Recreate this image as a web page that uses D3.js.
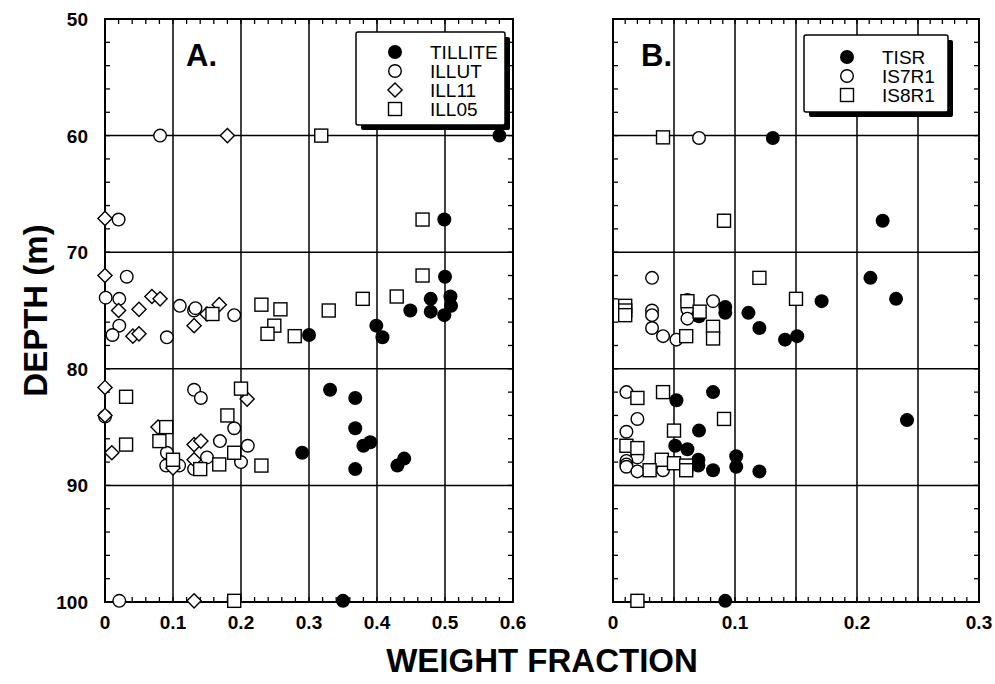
<!DOCTYPE html>
<html>
<head>
<meta charset="utf-8">
<script src="https://cdn.jsdelivr.net/npm/d3@7"></script>
<style>
  body { margin: 0; background: #fff; }
  svg { display: block; }
  text { font-family: "Liberation Sans", Arial, sans-serif; fill: #000; }
</style>
</head>
<body>
<svg id="chart" width="995" height="684"></svg>
<script>
// ---- data: [weight fraction, depth (m)] ----
const depthTicks = [50, 60, 70, 80, 90, 100];
const xTicksA = [0, 0.1, 0.2, 0.3, 0.4, 0.5, 0.6];
const xTicksB = [0, 0.1, 0.2, 0.3];

const tillite = [[0.58,60],[0.499,67.2],[0.5,72.1],[0.479,74.0],[0.508,73.8],[0.509,74.6],[0.449,75.0],
  [0.479,75.1],[0.499,75.4],[0.399,76.3],[0.408,77.3],[0.30,77.1],[0.331,81.8],[0.368,82.5],[0.368,85.1],
  [0.38,86.6],[0.39,86.3],[0.368,88.6],[0.43,88.3],[0.44,87.7],[0.29,87.2],[0.35,99.9]];
const illut = [[0.081,60],[0.02,67.2],[0.032,72.1],[0.001,73.9],[0.021,74.0],[0.021,76.3],[0.011,77.1],
  [0.091,77.3],[0.11,74.6],[0.131,75.0],[0.133,74.8],[0.19,75.4],[0.131,81.8],[0.141,82.5],[0,84.1],
  [0.19,85.1],[0.091,87.2],[0.09,88.3],[0.109,88.3],[0.169,86.2],[0.21,86.6],[0.15,87.6],[0.131,88.6],
  [0.2,88.0],[0.021,99.9]];
const ill11 = [[0.18,60],[0,67.1],[0,72],[0.069,73.8],[0.081,74.0],[0.02,75.0],[0.05,74.9],[0.041,77.2],
  [0.05,77.0],[0.15,75.3],[0.168,74.5],[0.131,76.3],[0,81.6],[0.209,82.6],[0,84.0],[0.078,85.0],[0.01,87.2],
  [0.1,88.5],[0.131,86.5],[0.141,86.2],[0.131,87.8],[0.131,99.9]];
const ill05 = [[0.318,60],[0.467,67.2],[0.467,72.0],[0.379,74.0],[0.429,73.8],[0.158,75.3],[0.23,74.5],
  [0.258,74.9],[0.249,76.3],[0.239,77.0],[0.279,77.2],[0.329,75.0],[0.031,82.4],[0.2,81.7],[0.18,84.0],
  [0.09,85.0],[0.08,86.2],[0.031,86.5],[0.1,87.8],[0.19,87.2],[0.14,88.6],[0.168,88.2],[0.23,88.3],[0.19,99.9]];

const tisr = [[0.131,60.2],[0.221,67.3],[0.211,72.2],[0.232,74.0],[0.171,74.2],[0.092,74.7],[0.092,75.2],
  [0.0705,75.5],[0.111,75.2],[0.12,76.5],[0.141,77.5],[0.151,77.2],[0.082,82.0],[0.052,82.7],[0.241,84.4],
  [0.0705,85.3],[0.051,86.6],[0.061,86.9],[0.07,87.8],[0.07,88.3],[0.082,88.7],[0.101,87.5],[0.101,88.4],
  [0.12,88.8],[0.092,99.9]];
const is7r1 = [[0.0705,60.2],[0.091,67.3],[0.032,72.2],[0.032,75.0],[0.032,75.4],[0.032,76.5],[0.041,77.2],
  [0.052,77.5],[0.061,74.1],[0.061,74.9],[0.061,75.7],[0.082,74.2],[0.011,82.0],[0.02,84.3],[0.011,85.4],
  [0.02,87.6],[0.011,87.9],[0.011,88.2],[0.011,88.4],[0.02,88.8],[0.041,88.7],[0.02,99.9]];
const is8r1 = [[0.041,60.15],[0.091,67.3],[0.01,74.6],[0.01,75.0],[0.01,75.4],[0.06,77.2],[0.061,74.2],
  [0.071,75.1],[0.082,76.4],[0.082,77.4],[0.12,72.2],[0.15,74.0],[0.02,82.5],[0.041,82.0],[0.091,84.3],
  [0.05,85.3],[0.011,86.6],[0.02,86.8],[0.04,87.8],[0.05,88.1],[0.06,88.3],[0.06,88.7],[0.03,88.7],[0.02,99.9]];

const svg = d3.select('#chart');
const TOP = 19, BOTTOM = 602;
const y = d3.scaleLinear().domain([50, 100]).range([TOP, BOTTOM]);

// marker painters
const marker = {
  filled: (g, cx, cy) => g.append('circle').attr('cx', cx).attr('cy', cy).attr('r', 7).attr('fill', '#000'),
  circle: (g, cx, cy) => g.append('circle').attr('cx', cx).attr('cy', cy).attr('r', 6.3)
    .attr('fill', '#fff').attr('stroke', '#000').attr('stroke-width', 1.4),
  diamond: (g, cx, cy) => g.append('path').attr('d', d3.symbol(d3.symbolSquare, 100)())
    .attr('transform', `translate(${cx},${cy}) rotate(45)`)
    .attr('fill', '#fff').attr('stroke', '#000').attr('stroke-width', 1.4),
  square: (g, cx, cy) => g.append('rect').attr('x', cx - 6.5).attr('y', cy - 6.5).attr('width', 13).attr('height', 13)
    .attr('fill', '#fff').attr('stroke', '#000').attr('stroke-width', 1.4)
};

function drawPanel(opt) {
  const x = d3.scaleLinear().domain(opt.domain).range(opt.range);
  const g = svg.append('g');
  const [x0, x1] = opt.range;

  // grid
  opt.grid.forEach(v => g.append('line').attr('x1', x(v)).attr('x2', x(v)).attr('y1', TOP).attr('y2', BOTTOM)
    .attr('stroke', '#000').attr('stroke-width', 1.5));
  [60, 70, 80, 90].forEach(v => g.append('line').attr('x1', x0).attr('x2', x1).attr('y1', y(v)).attr('y2', y(v))
    .attr('stroke', '#000').attr('stroke-width', 1.5));

  // minor ticks (inside, all four sides)
  d3.range(opt.domain[0], opt.domain[1] + 1e-9, opt.minor).forEach(v => {
    g.append('line').attr('x1', x(v)).attr('x2', x(v)).attr('y1', BOTTOM).attr('y2', BOTTOM - 5).attr('stroke', '#000').attr('stroke-width', 1.3);
    g.append('line').attr('x1', x(v)).attr('x2', x(v)).attr('y1', TOP).attr('y2', TOP + 5).attr('stroke', '#000').attr('stroke-width', 1.3);
  });
  d3.range(50, 100.1, 2).forEach(v => {
    g.append('line').attr('x1', x0).attr('x2', x0 + 5).attr('y1', y(v)).attr('y2', y(v)).attr('stroke', '#000').attr('stroke-width', 1.3);
    g.append('line').attr('x1', x1).attr('x2', x1 - 5).attr('y1', y(v)).attr('y2', y(v)).attr('stroke', '#000').attr('stroke-width', 1.3);
  });

  // frame
  g.append('rect').attr('x', x0).attr('y', TOP).attr('width', x1 - x0).attr('height', BOTTOM - TOP)
    .attr('fill', 'none').attr('stroke', '#000').attr('stroke-width', 2);

  // x tick labels
  opt.ticks.forEach(v => g.append('text').attr('x', x(v)).attr('y', 629).attr('text-anchor', 'middle')
    .attr('font-size', 19).attr('font-weight', 'bold').text(v === 0 ? '0' : d3.format('.1f')(v)));

  // panel letter
  g.append('text').attr('x', opt.letterX).attr('y', 66).attr('font-size', 31).attr('font-weight', 'bold').text(opt.letter);

  // points
  opt.series.forEach(s => s.data.forEach(d => marker[s.shape](g, x(d[0]), y(d[1]))));

  // legend
  const L = opt.legend;
  g.append('rect').attr('x', L.x + 5).attr('y', L.y + 5).attr('width', L.w).attr('height', L.h).attr('rx', 2).attr('fill', '#000');
  g.append('rect').attr('x', L.x).attr('y', L.y).attr('width', L.w).attr('height', L.h).attr('rx', 2)
    .attr('fill', '#fff').attr('stroke', '#000').attr('stroke-width', 1.5);
  opt.series.forEach((s, i) => {
    const cy = L.y + L.first + i * L.step;
    marker[s.shape](g, L.x + L.mx, cy);
    g.append('text').attr('x', L.x + L.tx).attr('y', cy + 7).attr('font-size', 19).text(s.name);
  });
}

drawPanel({
  domain: [0, 0.6], range: [105, 513], ticks: xTicksA, minor: 0.02,
  grid: [0.1, 0.2, 0.3, 0.4, 0.5], letter: 'A.', letterX: 186,
  series: [
    { name: 'TILLITE', shape: 'filled', data: tillite },
    { name: 'ILLUT', shape: 'circle', data: illut },
    { name: 'ILL11', shape: 'diamond', data: ill11 },
    { name: 'ILL05', shape: 'square', data: ill05 }
  ],
  legend: { x: 356, y: 32, w: 149, h: 93, first: 20, step: 19, mx: 39, tx: 74 }
});

drawPanel({
  domain: [0, 0.3], range: [613, 979], ticks: xTicksB, minor: 0.01,
  grid: [0.05, 0.1, 0.15, 0.2, 0.25], letter: 'B.', letterX: 641,
  series: [
    { name: 'TISR', shape: 'filled', data: tisr },
    { name: 'IS7R1', shape: 'circle', data: is7r1 },
    { name: 'IS8R1', shape: 'square', data: is8r1 }
  ],
  legend: { x: 804, y: 35, w: 144, h: 77, first: 22, step: 19, mx: 43, tx: 78 }
});

// y tick labels (left panel only)
depthTicks.forEach(v => svg.append('text').attr('x', 88).attr('y', y(v) + 7).attr('text-anchor', 'end')
  .attr('font-size', 19).attr('font-weight', 'bold').text(v));

// axis titles
svg.append('text').attr('transform', `translate(47,${(TOP + BOTTOM) / 2}) rotate(-90)`).attr('text-anchor', 'middle')
  .attr('font-size', 33).attr('font-weight', 'bold').text('DEPTH (m)');
svg.append('text').attr('x', 542).attr('y', 672).attr('text-anchor', 'middle')
  .attr('font-size', 33).attr('font-weight', 'bold').text('WEIGHT FRACTION');
</script>
</body>
</html>
